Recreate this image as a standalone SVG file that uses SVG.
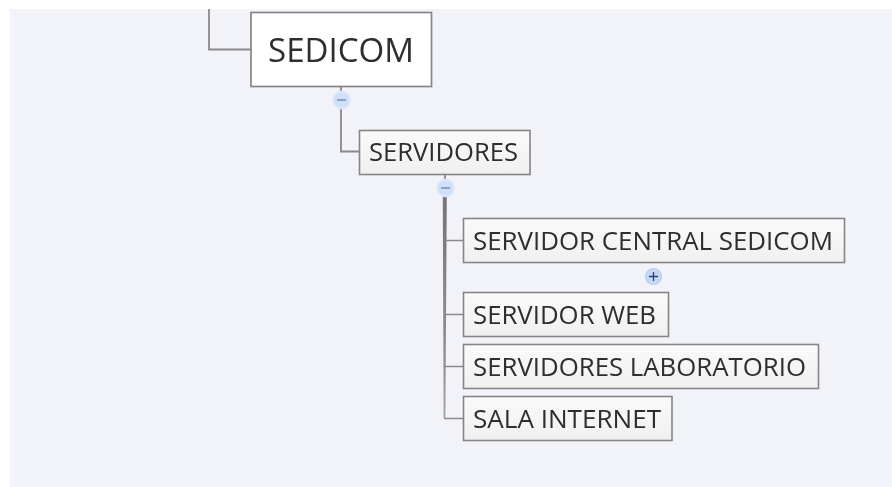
<svg xmlns="http://www.w3.org/2000/svg" width="892" height="487" viewBox="0 0 892 487">
<style>
.t{font-family:"Open Sans","Noto Sans",sans-serif;fill:#2e2e2e;font-size:25.500px}
.b{fill:url(#g);stroke:#858585;stroke-width:1.600}
.c{fill:none;stroke:#8a8a8a;stroke-width:1.800}
.m{fill:#cfe0fb;stroke:#dde8fb;stroke-width:1.500}
.s{stroke:#7d86a8;stroke-width:1.400;fill:none}
</style>
<defs>
<linearGradient id="g" x1="0" y1="0" x2="0" y2="1"><stop offset="0" stop-color="#fafafa"/><stop offset="1" stop-color="#f0f0f0"/></linearGradient>
<linearGradient id="v" x1="0" y1="0" x2="0" y2="1"><stop offset="0" stop-color="#757575"/><stop offset="0.7" stop-color="#8f8f8f"/><stop offset="1" stop-color="#a5a5a5"/></linearGradient>
<filter id="f" x="-5%" y="-5%" width="110%" height="110%"><feGaussianBlur stdDeviation="0.500"/></filter>
</defs>
<rect width="892" height="487" fill="#fff"/>
<rect x="10" y="9" width="882" height="478" fill="#f2f3f9"/>
<g filter="url(#f)">
<g id="connectors">
<path class="c" d="M209 9V49.500H251"/>
<path class="c" d="M341 86V151.500H359"/>
<path class="c" d="M445 174V181"/>
<path d="M442.800 197H446.800L445.400 418H443.600Z" fill="url(#v)"/>
<path class="c" d="M445 240.500H463M445 314.500H463M445 366.500H463M444 418.500H463" style="stroke-width:1.300"/>
</g>
<g id="sedicom"><rect x="251" y="12.500" width="180.500" height="74" fill="#fff" stroke="#858585" stroke-width="1.700"/><text class="t" x="268" y="61.500" textLength="146" lengthAdjust="spacingAndGlyphs" style="font-size:32px">SEDICOM</text>
<circle class="m" cx="341.500" cy="100" r="8.500"/><path class="s" d="M337 100H346"/></g>
<g id="servidores"><rect class="b" x="359.500" y="130.500" width="170.500" height="44"/><text class="t" x="369" y="161" textLength="149" lengthAdjust="spacingAndGlyphs">SERVIDORES</text>
<circle class="m" cx="445.500" cy="188" r="8.500"/><path class="s" d="M441 188H450"/></g>
<g id="servidor-central"><rect class="b" x="463.500" y="218.500" width="381" height="44"/><text class="t" x="473" y="249.500" textLength="360" lengthAdjust="spacingAndGlyphs">SERVIDOR CENTRAL SEDICOM</text>
<circle cx="653.500" cy="276.500" r="8" fill="#c5d8f5" stroke="#b7cdee" stroke-width="1.200"/><path d="M649 276.500H658M653.500 272V281" stroke="#2c3e73" stroke-width="1.300" fill="none"/></g>
<g id="servidor-web"><rect class="b" x="463.500" y="292.500" width="205" height="44"/><text class="t" x="473" y="323.500" textLength="183" lengthAdjust="spacingAndGlyphs">SERVIDOR WEB</text></g>
<g id="servidores-lab"><rect class="b" x="463.500" y="344.500" width="355" height="44"/><text class="t" x="473" y="375.500" textLength="333" lengthAdjust="spacingAndGlyphs">SERVIDORES LABORATORIO</text></g>
<g id="sala-internet"><rect class="b" x="463.500" y="396.500" width="208.500" height="44"/><text class="t" x="473" y="427.500" textLength="188" lengthAdjust="spacingAndGlyphs">SALA INTERNET</text></g>
</g>
</svg>
